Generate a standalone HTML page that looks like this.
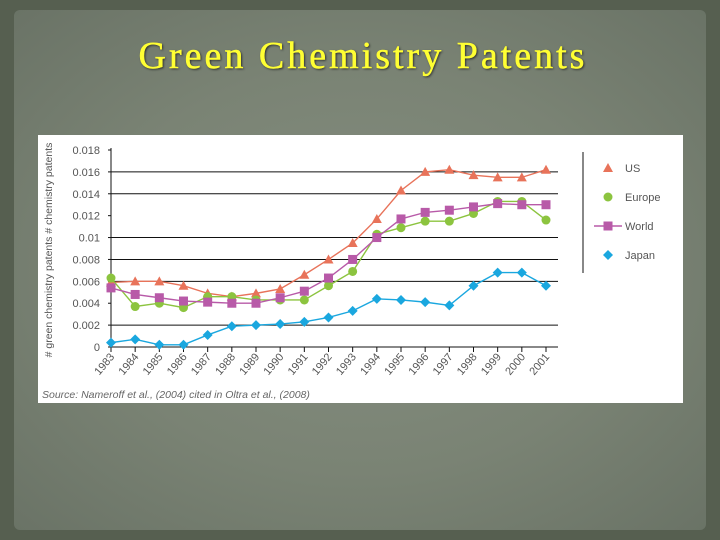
<!DOCTYPE html>
<html><head><meta charset="utf-8"><style>
html,body{margin:0;padding:0}
body{width:720px;height:540px;overflow:hidden;background:#565f50;position:relative;font-family:"Liberation Sans",sans-serif}
#frame{position:absolute;left:14px;top:10px;width:692px;height:520px;background:radial-gradient(ellipse at center,#858e80 0%,#7a8374 55%,#6a7366 100%);border-radius:6px}
#title{position:absolute;left:0;top:33px;width:726px;text-align:center;font-family:"Liberation Serif",serif;font-size:38px;letter-spacing:3px;line-height:46px;color:#ffff33;-webkit-text-stroke:0.5px #ffff33;text-shadow:1px 1px 2px #222}
#chart{position:absolute;left:38px;top:135px;width:645px;height:268px;background:#fff}
</style></head><body>
<div id="frame"></div>
<div id="title">Green Chemistry Patents</div>
<div id="chart">
<svg id="svg" width="645" height="268" xmlns="http://www.w3.org/2000/svg" font-family="Liberation Sans, sans-serif"></svg>
</div>
<script>
const years=['1983','1984','1985','1986','1987','1988','1989','1990','1991','1992','1993','1994','1995','1996','1997','1998','1999','2000','2001'];
const usVals=[.0059,.006,.006,.0056,.0049,.0046,.0049,.0053,.0066,.008,.0095,.0117,.0143,.016,.0162,.0157,.0155,.0155,.0162];
const europeVals=[.0063,.0037,.004,.0036,.0046,.0046,.0043,.0043,.0043,.0056,.0069,.0103,.0109,.0115,.0115,.0122,.0133,.0133,.0116];
const worldVals=[.0054,.0048,.0045,.0042,.0041,.004,.004,.0045,.0051,.0063,.008,.01,.0117,.0123,.0125,.0128,.0131,.013,.013];
const japanVals=[.0004,.0007,.0002,.0002,.0011,.0019,.002,.0021,.0023,.0027,.0033,.0044,.0043,.0041,.0038,.0056,.0068,.0068,.0056];
const yTicks=['0','0.002','0.004','0.006','0.008','0.01','0.012','0.014','0.016','0.018'];
const gridVals=[.002,.006,.008,.01,.014,.016];
const NS='http://www.w3.org/2000/svg';
const svg=document.getElementById('svg');
const X0=73,X1=508,Y0=212,Y1=15,YMAX=0.018;
function xs(i){return X0+(X1-X0)*i/(years.length-1);}
function ys(v){return Y0-(Y0-Y1)*v/YMAX;}
function mk(t,a){const e=document.createElementNS(NS,t);for(const k in a)e.setAttribute(k,a[k]);svg.appendChild(e);return e;}
for(const g of gridVals){const l=mk('line',{x1:X0,x2:520,y1:ys(g),y2:ys(g),stroke:'#111','stroke-width':1});

}
let ax=mk('line',{x1:X0,x2:X0,y1:Y1-2,y2:Y0,stroke:'#111'});


ax=mk('line',{x1:X0,x2:520,y1:Y0,y2:Y0,stroke:'#111'});


yTicks.forEach((t,i)=>{const v=parseFloat(t);const e=mk('text',{x:62,y:ys(v)+4,'text-anchor':'end','font-size':11,fill:'#555'});e.textContent=t;


mk('line',{x1:X0-3,x2:X0,y1:ys(v),y2:ys(v),stroke:'#111'});});
years.forEach((t,i)=>{const x=xs(i);mk('line',{x1:x,x2:x,y1:Y0,y2:Y0+5,stroke:'#111'});
const e=mk('text',{x:x+4,y:Y0+10,'text-anchor':'end','font-size':11,fill:'#555',transform:`rotate(-50 ${x+4} ${Y0+10})`});e.textContent=t;

});
const yt=mk('text',{x:14,y:115,'text-anchor':'middle','font-size':10.5,fill:'#555',transform:'rotate(-90 14 115)'});
yt.textContent='# green chemistry patents   # chemistry patents';


const src=mk('text',{x:4,y:263,'font-size':10.5,fill:'#666','font-style':'italic'});
src.textContent='Source: Nameroff et al., (2004) cited in Oltra et al., (2008)';


function marker(type,x,y,c){
 if(type==='tri')return mk('polygon',{points:`${x},${y-5} ${x-5},${y+4} ${x+5},${y+4}`,fill:c});
 if(type==='circ')return mk('circle',{cx:x,cy:y,r:4.5,fill:c});
 if(type==='sq')return mk('rect',{x:x-4.5,y:y-4.5,width:9,height:9,fill:c});
 return mk('polygon',{points:`${x},${y-5} ${x+5},${y} ${x},${y+5} ${x-5},${y}`,fill:c});
}
const series=[['us',usVals,'#e8735a','tri','US'],['europe',europeVals,'#8cc43f','circ','Europe'],['world',worldVals,'#b85aa8','sq','World'],['japan',japanVals,'#1aa7df','dia','Japan']];
series.forEach(([n,vals,c,m,label],si)=>{
 const p=mk('polyline',{points:vals.map((v,i)=>xs(i)+','+ys(v)).join(' '),fill:'none',stroke:c,'stroke-width':1.4});
 
 
 vals.forEach((v,i)=>{const e=marker(m,xs(i),ys(v),c);
 
 });
 const ly=33+si*29;
 if(n==='world')mk('line',{x1:556,x2:584,y1:ly,y2:ly,stroke:c,'stroke-width':1.4});
 const lm=marker(m,570,ly,c);
 
 
 const lt=mk('text',{x:587,y:ly+4,'font-size':11,fill:'#555'});lt.textContent=label;
 
 
});
const ll=mk('line',{x1:545,x2:545,y1:17,y2:138,stroke:'#111'});


</script>
</body></html>
